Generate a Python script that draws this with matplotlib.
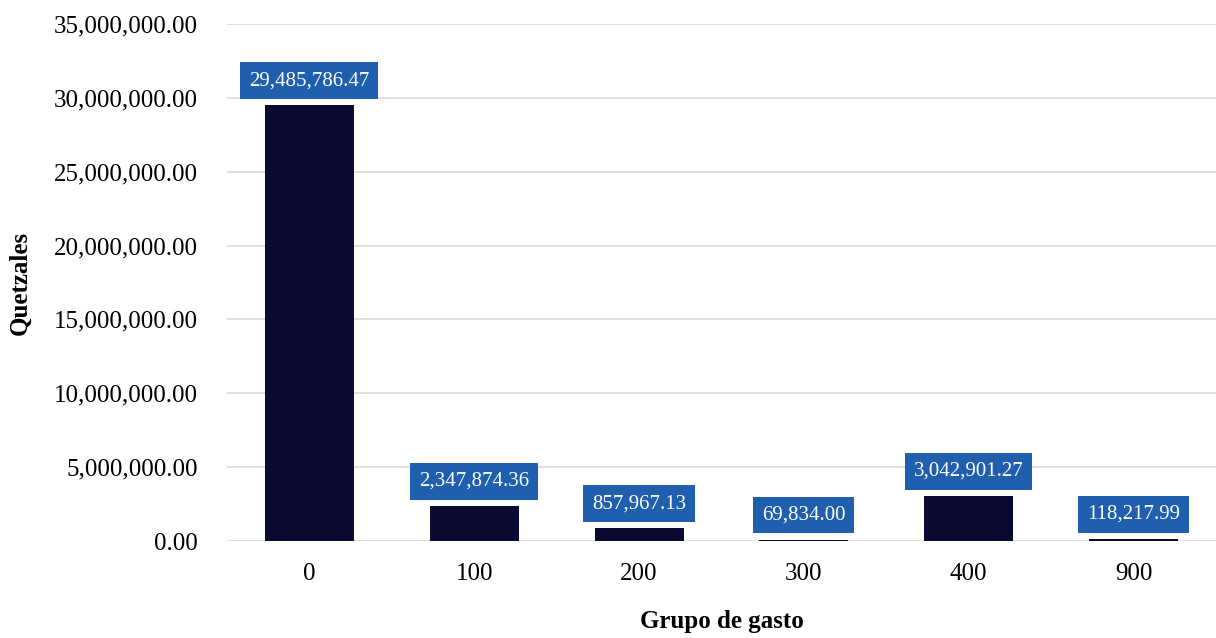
import matplotlib
matplotlib.use('Agg')
import matplotlib.pyplot as plt
from matplotlib.ticker import FuncFormatter

# datos del grafico
grupos = ['0', '100', '200', '300', '400', '900']
montos = [29485786.47, 2347874.36, 857967.13, 69834.00, 3042901.27, 118217.99]
y_ticks = [0, 5000000, 10000000, 15000000, 20000000, 25000000, 30000000, 35000000]

plt.rcParams['font.family'] = ['Liberation Serif', 'DejaVu Serif']

fig = plt.figure(figsize=(12.16, 6.38), dpi=100)
ax = fig.add_axes([227 / 1216, 1 - 541 / 638, (1216 - 227) / 1216, (541 - 24) / 638])

x = range(len(grupos))
ax.bar(x, montos, width=0.54, color='#0a0a33', zorder=3)

for xi, v in zip(x, montos):
    ax.annotate(f'{v:,.2f}', xy=(xi, v), xytext=(0, 11), textcoords='offset points',
                ha='center', va='bottom', color='white', fontsize=15,
                bbox=dict(boxstyle='square,pad=0.42', fc='#1f5fae', ec='none'), zorder=4)

ax.set_xlim(-0.5, 5.5)
ax.set_ylim(0, 35000000)
ax.set_xticks(list(x))
ax.set_xticklabels(grupos, fontsize=18)
ax.set_yticks(y_ticks)
ax.yaxis.set_major_formatter(FuncFormatter(lambda v, p: f'{v:,.2f}'))
ax.tick_params(axis='y', labelsize=18, length=0, pad=21)
ax.tick_params(axis='x', length=0, pad=16)
ax.grid(axis='y', color='#d9d9d9', linewidth=1.2, zorder=0)
for s in ax.spines.values():
    s.set_visible(False)

ax.set_ylabel('Quetzales', fontsize=18, fontweight='bold', labelpad=16)
ax.set_xlabel('Grupo de gasto', fontsize=18, fontweight='bold', labelpad=18)

fig.savefig('out.png', dpi=100)
